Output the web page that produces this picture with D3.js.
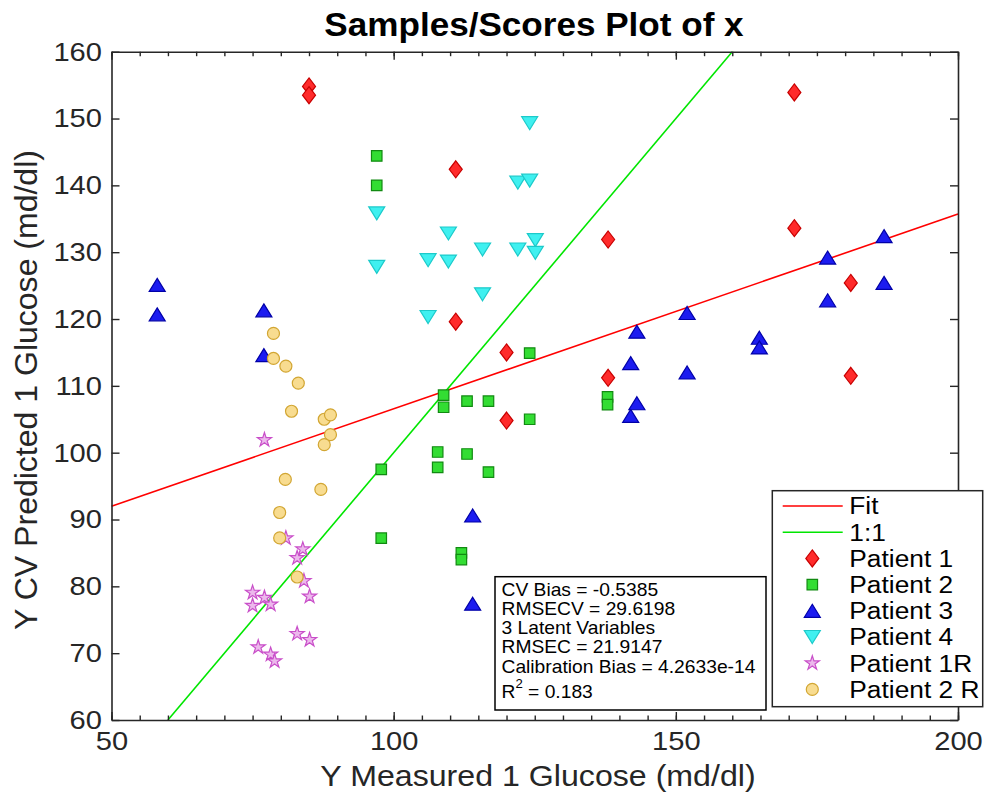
<!DOCTYPE html>
<html>
<head>
<meta charset="utf-8">
<script src="https://cdn.jsdelivr.net/npm/d3@7"></script>
<style>
  html, body { margin: 0; padding: 0; background: #fff; }
  svg { display: block; }
  text { font-family: "Liberation Sans", Arial, Helvetica, sans-serif; }
</style>
</head>
<body>
<svg id="chart" width="984" height="793"></svg>
<script>
// ---------------- DATA ----------------
const xDomain = [50, 200];
const yDomain = [60, 160];
const xMajorTicks = [50, 100, 150, 200];
const xMinorTicks = d3.range(50, 201, 5);
const yTicks = [60, 70, 80, 90, 100, 110, 120, 130, 140, 150, 160];

const fitX = [50, 200];
const fitY = [92.0, 135.7];
const oneToOneX = [60, 160];
const oneToOneY = [60, 160];

const patient1 = [[85,154.8],[85,153.5],[111,142.4],[111,119.6],[120,115.0],[120,104.8],
  [138,131.9],[138,111.2],[171,153.9],[171,133.6],[181,125.4],[181,111.5]];
const patient2 = [[97,144.4],[97,140.0],[97.8,97.5],[97.8,87.2],[108.85,108.6],[108.85,106.8],
  [107.8,100.1],[107.8,97.8],[113,107.7],[113,99.8],[116.8,107.7],[116.8,97.1],[112,85.0],[112,84.0],
  [124.1,114.9],[124.1,105.0],[137.9,108.35],[137.9,107.2]];
const patient3 = [[58.1,125.1],[58.1,120.7],[77,121.3],[77,114.6],[114,90.6],[114,77.4],
  [142,113.4],[142,105.5],[143.1,118.1],[143.1,107.4],[152,120.9],[152,112],[164.8,117.2],[164.8,115.75],
  [176.9,129.2],[176.9,122.8],[186.9,132.4],[186.9,125.4]];
const patient4 = [[97,135.8],[97,127.8],[106.1,128.8],[106.1,120.3],[109.7,132.8],[109.7,128.6],
  [115.75,130.4],[115.75,123.7],[122,130.4],[122,140.4],[124.1,140.7],[124.1,149.3],[125.1,131.8],[125.1,129.9]];
const patient1R = [[77.1,101.9],[80.9,87.2],[83.9,85.55],[82.9,84.25],[84.1,80.8],[85.1,78.5],
  [75.0,79.07],[77.1,78.3],[75.0,77.1],[78.2,77.3],[82.9,72.9],[85.1,72.0],[76.0,70.9],[78.2,69.8],[78.9,68.8]];
const patient2R = [[78.7,117.85],[78.7,114.1],[80.9,112.95],[83.1,110.4],[81.9,106.2],[87.7,105.0],
  [88.8,105.66],[88.8,102.7],[87.7,101.2],[80.8,96.0],[87.1,94.5],[79.8,91.05],[79.8,87.25],[82.9,81.4]];

const seriesNames = ["Patient 1", "Patient 2", "Patient 3", "Patient 4", "Patient 1R", "Patient 2 R"];
const statsLines = ["CV Bias = -0.5385", "RMSECV = 29.6198", "3 Latent Variables",
  "RMSEC = 21.9147", "Calibration Bias = 4.2633e-14"];
const r2Text = "0.183";

const titleText = "Samples/Scores Plot of x";
const xLabelText = "Y Measured 1 Glucose (md/dl)";
const yLabelText = "Y CV Predicted 1 Glucose (md/dl)";

// ---------------- SETUP ----------------
const svg = d3.select("#chart");
const axisColor = "#262626";
const L = 111.5, R = 958, T = 51.7, B = 720;
const x = d3.scaleLinear().domain(xDomain).range([L, R]);
const y = d3.scaleLinear().domain(yDomain).range([B, T]);

// custom marker shapes
const diamond = (w, h) => ({ draw(c) { c.moveTo(0, -h/2); c.lineTo(w/2, 0); c.lineTo(0, h/2); c.lineTo(-w/2, 0); c.closePath(); } });
const triUp = (w, h) => ({ draw(c) { c.moveTo(0, -h/2); c.lineTo(w/2, h/2); c.lineTo(-w/2, h/2); c.closePath(); } });
const triDown = (w, h) => ({ draw(c) { c.moveTo(0, h/2); c.lineTo(w/2, -h/2); c.lineTo(-w/2, -h/2); c.closePath(); } });
const square = (s) => ({ draw(c) { c.rect(-s/2, -s/2, s, s); } });
const circ = (d) => ({ draw(c) { c.moveTo(d/2, 0); c.arc(0, 0, d/2, 0, 2*Math.PI); } });

const styles = [
  { data: patient1, type: diamond(13, 17), size: 1, fill: "#ff2b2b", stroke: "#c80000" },
  { data: patient2, type: square(10.5), size: 1, fill: "#33dd33", stroke: "#118a11" },
  { data: patient3, type: triUp(16, 13), size: 1, fill: "#1c1cf0", stroke: "#0000a8" },
  { data: patient4, type: triDown(16, 13), size: 1, fill: "#3ff0f0", stroke: "#1ccaca" },
  { data: patient1R, type: d3.symbolStar, size: 62, fill: "#ecb8ec", stroke: "#c94fc9" },
  { data: patient2R, type: circ(12), size: 1, fill: "#f8dc90", stroke: "#d2a633" },
];

// ---------------- LINES ----------------
const lineGen = d3.line().x(d => x(d[0])).y(d => y(d[1]));
svg.append("path").datum(d3.zip(fitX, fitY)).attr("d", lineGen)
  .attr("fill", "none").attr("stroke", "#ff0000").attr("stroke-width", 1.6);
svg.append("path").datum(d3.zip(oneToOneX, oneToOneY)).attr("d", lineGen)
  .attr("fill", "none").attr("stroke", "#00e600").attr("stroke-width", 1.6);

// ---------------- MARKERS ----------------
styles.forEach(s => {
  svg.append("g").selectAll("path").data(s.data).join("path")
    .attr("transform", d => `translate(${x(d[0])},${y(d[1])})`)
    .attr("d", d3.symbol().type(s.type).size(s.size))
    .attr("fill", s.fill).attr("stroke", s.stroke).attr("stroke-width", 1.2);
});

// ---------------- AXES ----------------
function styleAxis(g) {
  g.select(".domain").attr("stroke", axisColor).attr("stroke-width", 1.6);
  g.selectAll(".tick line").attr("stroke", axisColor).attr("stroke-width", 1.4);
  g.selectAll("text").attr("fill", axisColor).style("font-size", "26px")
    .attr("transform", "scale(1.12,1)");
}
// bottom
svg.append("g").attr("transform", `translate(0,${B})`)
  .call(d3.axisBottom(x).tickValues(xMinorTicks).tickSize(-4.5).tickFormat(""))
  .call(g => { g.select(".domain").remove(); g.selectAll(".tick line").attr("stroke", axisColor).attr("stroke-width", 1.4); });
svg.append("g").attr("transform", `translate(0,${B})`)
  .call(d3.axisBottom(x).tickValues(xMajorTicks).tickSizeInner(-8).tickSizeOuter(0).tickPadding(12).tickFormat(d3.format("d")))
  .call(styleAxis);
// top
svg.append("g").attr("transform", `translate(0,${T})`)
  .call(d3.axisTop(x).tickValues(xMinorTicks).tickSize(-4.5).tickFormat(""))
  .call(g => { g.select(".domain").remove(); g.selectAll(".tick line").attr("stroke", axisColor).attr("stroke-width", 1.4); });
svg.append("g").attr("transform", `translate(0,${T})`)
  .call(d3.axisTop(x).tickValues(xMajorTicks).tickSizeInner(-8).tickSizeOuter(0).tickFormat(""))
  .call(styleAxis);
// left
svg.append("g").attr("transform", `translate(${L},0)`)
  .call(d3.axisLeft(y).tickValues(yTicks).tickSizeInner(-8).tickSizeOuter(0).tickPadding(8.5).tickFormat(d3.format("d")))
  .call(styleAxis);
// right
svg.append("g").attr("transform", `translate(${R},0)`)
  .call(d3.axisRight(y).tickValues(yTicks).tickSizeInner(-8).tickSizeOuter(0).tickFormat(""))
  .call(styleAxis);

// ---------------- LABELS ----------------
svg.append("text").attr("transform", `translate(534,36) scale(1.08,1)`)
  .attr("text-anchor", "middle").style("font-size", "32.5px").style("font-weight", "bold")
  .attr("fill", "#000").text(titleText);
svg.append("text").attr("transform", `translate(538,786) scale(1.09,1)`)
  .attr("text-anchor", "middle").style("font-size", "29.5px").attr("fill", axisColor).text(xLabelText);
svg.append("text").attr("transform", `translate(37,390) rotate(-90) scale(1.05,1)`)
  .attr("text-anchor", "middle").style("font-size", "30.5px").attr("fill", axisColor).text(yLabelText);

// ---------------- STATS BOX ----------------
const sb = svg.append("g");
sb.append("rect").attr("x", 495).attr("y", 576.7).attr("width", 271).attr("height", 133.3)
  .attr("fill", "#fff").attr("stroke", "#000").attr("stroke-width", 1.5);
const statBase = [595.5, 615, 634, 653.3, 673.3];
statsLines.forEach((t, i) => {
  sb.append("text").attr("transform", `translate(501.5,${statBase[i]}) scale(1.1,1)`)
    .style("font-size", "17.5px").attr("fill", "#000").text(t);
});
const r2 = sb.append("text").attr("transform", `translate(501.5,698.3) scale(1.1,1)`)
  .style("font-size", "17.5px").attr("fill", "#000");
r2.append("tspan").text("R");
r2.append("tspan").attr("dy", -10).style("font-size", "12px").text("2");
r2.append("tspan").attr("dy", 10).text(" = " + r2Text);

// ---------------- LEGEND ----------------
const lg = svg.append("g");
lg.append("rect").attr("x", 772.3).attr("y", 490.7).attr("width", 210.4).attr("height", 216)
  .attr("fill", "#fff").attr("stroke", axisColor).attr("stroke-width", 1.5);
const rowY = i => 506 + i * 26.2;
const legendLines = [{ name: "Fit", color: "#ff0000" }, { name: "1:1", color: "#00e600" }];
legendLines.forEach((l, i) => {
  lg.append("line").attr("x1", 782.7).attr("x2", 842.7).attr("y1", rowY(i)).attr("y2", rowY(i))
    .attr("stroke", l.color).attr("stroke-width", 1.6);
  lg.append("text").attr("transform", `translate(849.3,${rowY(i)}) scale(1.12,1)`)
    .attr("dy", "0.36em").style("font-size", "23.5px").attr("fill", "#000").text(l.name);
});
styles.forEach((s, j) => {
  const i = j + 2;
  lg.append("path").attr("transform", `translate(812.3,${rowY(i)})`)
    .attr("d", d3.symbol().type(s.type).size(s.size))
    .attr("fill", s.fill).attr("stroke", s.stroke).attr("stroke-width", 1.2);
  lg.append("text").attr("transform", `translate(849.3,${rowY(i)}) scale(1.12,1)`)
    .attr("dy", "0.36em").style("font-size", "23.5px").attr("fill", "#000").text(seriesNames[j]);
});
</script>
</body>
</html>
